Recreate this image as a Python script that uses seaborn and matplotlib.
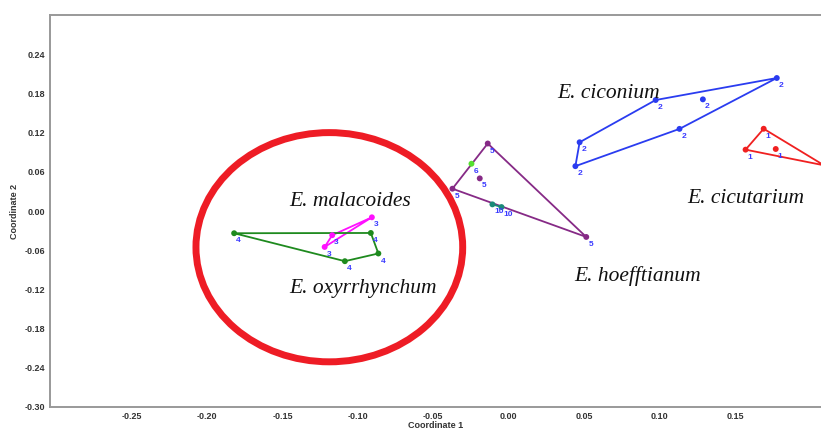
"""
PCoA plot of Erodium samples (Coordinate 1 x Coordinate 2)
- convex hulls per species, sample group numbers beside each point
"""
import numpy as np
import pandas as pd
import matplotlib
matplotlib.use("Agg")
import matplotlib.pyplot as plt
from matplotlib.patches import Ellipse
import seaborn as sns

# ---- data ----
# hull points first (in drawing order), then interior points
cicutarium_x = [0.169, 0.209, 0.157, 0.177]
cicutarium_y = [0.126, 0.070, 0.094, 0.095]
cicutarium_nhull = 3

ciconium_x = [0.1777, 0.0974, 0.0470, 0.0442, 0.1132, 0.1287]
ciconium_y = [0.2037, 0.1700, 0.1053, 0.0687, 0.1258, 0.1710]
ciconium_nhull = 5

malacoides_x = [-0.0907, -0.1170, -0.1220]
malacoides_y = [-0.0096, -0.0370, -0.0550]
malacoides_nhull = 3

oxyrrhynchum_x = [-0.1820, -0.0914, -0.0864, -0.1086]
oxyrrhynchum_y = [-0.0340, -0.0336, -0.0650, -0.0768]
oxyrrhynchum_nhull = 4

hoefftianum_x = [-0.0139, 0.0514, -0.0373, -0.0192]
hoefftianum_y = [0.1034, -0.0397, 0.0342, 0.0500]
hoefftianum_nhull = 3

grp6_x = [-0.0247]
grp6_y = [0.0724]
grp6_nhull = 1

grp10_x = [-0.0108, -0.0048]
grp10_y = [0.0102, 0.0061]
grp10_nhull = 2

GROUPS = {
    "1": (cicutarium_x, cicutarium_y, cicutarium_nhull),
    "2": (ciconium_x, ciconium_y, ciconium_nhull),
    "3": (malacoides_x, malacoides_y, malacoides_nhull),
    "4": (oxyrrhynchum_x, oxyrrhynchum_y, oxyrrhynchum_nhull),
    "5": (hoefftianum_x, hoefftianum_y, hoefftianum_nhull),
    "6": (grp6_x, grp6_y, grp6_nhull),
    "10": (grp10_x, grp10_y, grp10_nhull),
}

COLORS = {
    "1": "#f02020",
    "2": "#2a3cf0",
    "3": "#ff10ff",
    "4": "#1e8a1e",
    "5": "#862a86",
    "6": "#55e030",
    "10": "#1a8a78",
}

SPECIES_LABELS = ["E. malacoides", "E. oxyrrhynchum", "E. hoefftianum", "E. ciconium", "E. cicutarium"]
SPECIES_POS = [(-0.1455, 0.015), (-0.1455, -0.118), (0.0435, -0.100), (0.0325, 0.180), (0.1185, 0.019)]

X_TICKS = [-0.25, -0.20, -0.15, -0.10, -0.05, 0.00, 0.05, 0.10, 0.15]
Y_TICKS = [-0.30, -0.24, -0.18, -0.12, -0.06, 0.00, 0.06, 0.12, 0.18, 0.24]

rows = []
for g, (xs, ys, _) in GROUPS.items():
    for x, y in zip(xs, ys):
        rows.append({"group": g, "x": x, "y": y})
df = pd.DataFrame(rows)

sns.set_style("white")
plt.rcParams["font.family"] = ["Liberation Sans", "DejaVu Sans"]

fig = plt.figure(figsize=(8.21, 4.32), dpi=100)
ax = fig.add_axes([0.061, 0.058, 0.939, 0.907])

# convex hulls
for g, (xs, ys, nh) in GROUPS.items():
    if nh >= 3:
        hx = list(xs[:nh]) + [xs[0]]
        hy = list(ys[:nh]) + [ys[0]]
    else:
        hx, hy = xs[:nh], ys[:nh]
    ax.plot(hx, hy, color=COLORS[g], lw=1.3, zorder=2)

sns.scatterplot(data=df, x="x", y="y", hue="group", palette=COLORS, s=18,
                edgecolor="none", legend=False, ax=ax, zorder=3)

for _, r in df.iterrows():
    ax.annotate(r["group"], (r["x"], r["y"]), xytext=(1.5, -6.5), textcoords="offset points",
                fontsize=6, color="#3a3aff", fontweight="bold", zorder=4)

# circled group
ax.add_patch(Ellipse((-0.1189, -0.0554), 0.1768, 0.351, fill=False,
                     edgecolor="#ee1c25", lw=5, zorder=1))

for lab, (tx, ty) in zip(SPECIES_LABELS, SPECIES_POS):
    ax.text(tx, ty, lab, fontsize=15.5, style="italic", family="Liberation Serif",
            va="center", ha="left", color="#111111")

ax.set_xlim(-0.304, 0.207)
ax.set_ylim(-0.30, 0.30)
ax.set_xticks(X_TICKS)
ax.set_yticks(Y_TICKS)
ax.set_xticklabels([f"{v:.2f}" for v in X_TICKS])
ax.set_yticklabels([f"{v:.2f}" for v in Y_TICKS])
ax.tick_params(axis="both", length=2, width=1, color="#888888", labelsize=6.5,
               labelcolor="#333333", pad=1.5, direction="out")
for t in ax.get_xticklabels() + ax.get_yticklabels():
    t.set_fontweight("bold")
ax.set_xlabel("Coordinate 1", fontsize=6.5, fontweight="bold", color="#333333", labelpad=0.5)
ax.set_ylabel("Coordinate 2", fontsize=6.5, fontweight="bold", color="#333333", labelpad=4)
for side in ["left", "bottom", "top"]:
    ax.spines[side].set_color("#999999")
    ax.spines[side].set_linewidth(1.4)
ax.spines["right"].set_visible(False)

fig.savefig("out.png", dpi=100)
